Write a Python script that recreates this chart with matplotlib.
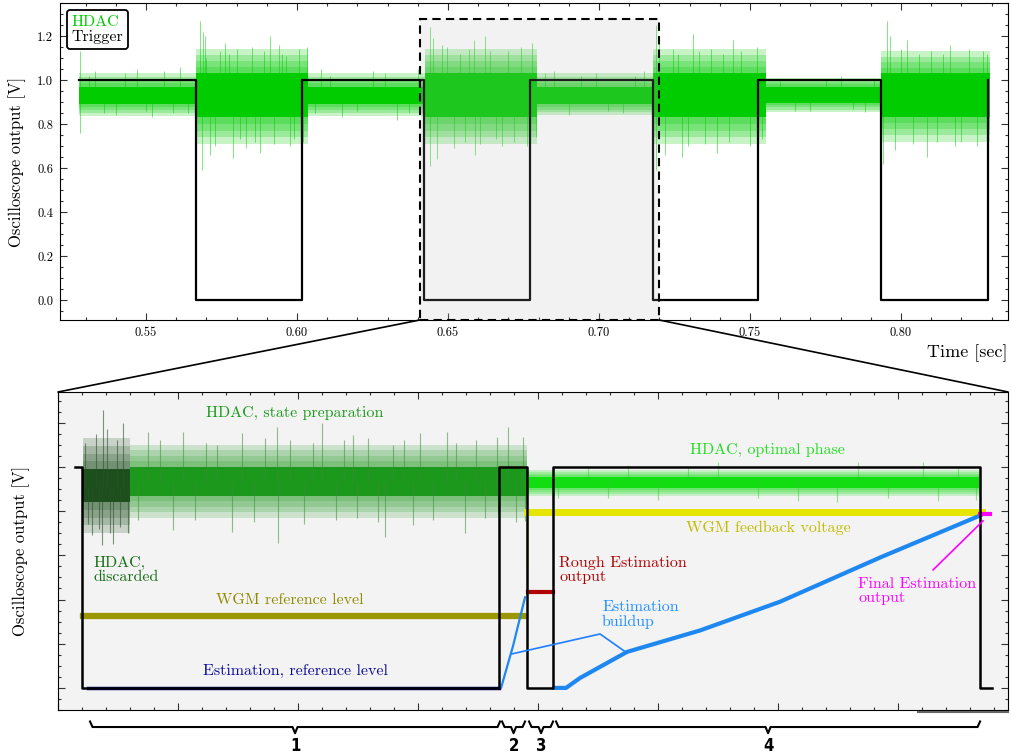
import matplotlib.pyplot as plt
from matplotlib.patches import Rectangle, ConnectionPatch
from matplotlib.lines import Line2D
from matplotlib.ticker import MultipleLocator, NullFormatter

plt.rcParams['font.family'] = 'serif'
plt.rcParams['font.serif'] = ['cmr10']
plt.rcParams['axes.formatter.use_mathtext'] = True
plt.rcParams['mathtext.fontset'] = 'cm'

# ---------------- overview trace (seconds, volts) ----------------
trig_t = [0.5278, 0.5666, 0.6017, 0.6421, 0.6772, 0.7179, 0.7527, 0.7934, 0.8288]
trig_v = [1, 0, 1, 0, 1, 0, 1, 0, 1]

# HDAC noise: segment edges, dense core and sparse outer envelope
hdac_edges = [0.5278, 0.5666, 0.6036, 0.6424, 0.6795, 0.7179, 0.7553, 0.7934, 0.8295]
hdac_core_lo = [0.89, 0.83, 0.89, 0.83, 0.89, 0.83, 0.895, 0.83]
hdac_core_hi = [0.97, 1.03, 0.97, 1.03, 0.97, 1.03, 0.97, 1.03]
hdac_outer_lo = [0.835, 0.71, 0.835, 0.71, 0.84, 0.71, 0.855, 0.72]
hdac_outer_hi = [1.03, 1.14, 1.03, 1.14, 1.03, 1.14, 1.01, 1.13]
hdac_center = 0.93

hdac_spike_t = [0.5280, 0.5281, 0.5310, 0.5330, 0.5360, 0.5400, 0.5430, 0.5470,
                0.5500, 0.5520, 0.5560, 0.5590, 0.5613, 0.5640,
                0.5679, 0.5685, 0.5690, 0.5695, 0.5700, 0.5712, 0.5730, 0.5745,
                0.5762, 0.5775, 0.5788, 0.5800, 0.5811, 0.5830, 0.5850, 0.5860,
                0.5877, 0.5890, 0.5911, 0.5925, 0.5940, 0.5950, 0.5965, 0.5977,
                0.5990, 0.6005, 0.6020, 0.6033,
                0.6060, 0.6080, 0.6110, 0.6150, 0.6200, 0.6250, 0.6290, 0.6330,
                0.6370, 0.6400,
                0.6440, 0.6441, 0.6450, 0.6465, 0.6480, 0.6497, 0.6520, 0.6540,
                0.6556, 0.6570, 0.6586, 0.6590, 0.6605, 0.6622, 0.6640, 0.6660,
                0.6679, 0.6700, 0.6720, 0.6740, 0.6760, 0.6778, 0.6790,
                0.6820, 0.6850, 0.6900, 0.6940, 0.6990, 0.7030, 0.7080, 0.7120,
                0.7150,
                0.7189, 0.7190, 0.7200, 0.7220, 0.7245, 0.7260, 0.7275, 0.7295,
                0.7311, 0.7330, 0.7350, 0.7370, 0.7390, 0.7410, 0.7430, 0.7444,
                0.7470, 0.7500, 0.7523, 0.7540,
                0.7600, 0.7650, 0.7700, 0.7750, 0.7800, 0.7840, 0.7880, 0.7910,
                0.7940, 0.7954, 0.7965, 0.7980, 0.8000, 0.8019, 0.8040, 0.8060,
                0.8086, 0.8100, 0.8120, 0.8140, 0.8162, 0.8180, 0.8200, 0.8225,
                0.8251, 0.8270, 0.8285]
hdac_spike_v = [1.13, 0.76, 1.02, 1.04, 0.85, 0.84, 1.03, 1.05,
                0.86, 0.83, 1.04, 0.85, 1.06, 0.85,
                1.27, 0.59, 1.22, 1.20, 1.10, 0.66, 0.70, 1.13,
                1.17, 1.12, 0.645, 1.14, 0.73, 0.69, 1.15, 0.72,
                0.67, 1.13, 1.20, 0.71, 1.16, 1.12, 1.11, 0.70,
                0.73, 1.14, 0.72, 1.15,
                0.85, 1.05, 1.02, 0.83, 0.86, 1.04, 1.03, 0.82,
                0.85, 1.05,
                1.24, 0.61, 1.19, 0.64, 1.16, 1.15, 0.69, 1.12,
                0.72, 1.14, 1.18, 0.66, 0.71, 1.20, 1.13, 0.73,
                0.70, 1.13, 0.72, 1.15, 0.70, 1.17, 0.74,
                1.03, 1.04, 0.84, 1.02, 1.03, 0.86, 0.85, 1.02,
                1.04,
                1.25, 0.59, 1.19, 0.66, 1.14, 1.12, 0.65, 0.70,
                1.21, 1.13, 0.71, 1.14, 0.67, 1.12, 0.72, 1.18,
                1.13, 0.70, 1.15, 0.73,
                1.01, 0.86, 0.86, 1.00, 1.02, 0.87, 0.855, 1.01,
                0.62, 1.27, 1.20, 0.68, 1.14, 1.18, 0.71, 1.12,
                0.65, 1.13, 0.72, 1.12, 1.16, 0.70, 0.72, 1.14,
                0.70, 1.13, 1.12]

# zoomed window on the overview
zoom_t0, zoom_t1 = 0.6407, 0.7199
zoom_top = 1.277

# ---------------- single measurement cycle (arb. time units) ----------------
cyc_trig_t = [1.7, 2.4, 44.1, 46.9, 49.5, 92.2, 93.4]
cyc_trig_v = [1, 0, 1, 0, 1, 0, 0]

# HDAC bands: discarded, state preparation, optimal phase
discard_x = [2.5, 7.2]
discard_core = (0.84, 0.99)
discard_outer = (0.70, 1.13)
discard_spike_t = [2.7, 3.0, 3.4, 3.8, 4.1, 4.4, 4.5, 4.9, 5.2, 5.5, 5.9, 6.2, 6.5, 7.0]
discard_spike_v = [1.11, 0.74, 0.69, 1.15, 0.72, 0.647, 1.258, 1.17, 0.70, 0.65, 1.12, 0.73, 1.20, 0.70]

prep_x = [7.2, 46.9]
prep_core = (0.87, 1.00)
prep_outer = (0.77, 1.10)
prep_spike_t = [8.0, 9.0, 10.2, 11.5, 12.5, 13.7, 14.8, 15.9, 17.4, 18.4, 19.6,
                20.7, 21.9, 21.95, 23.2, 24.6, 25.5, 26.4, 27.8, 28.6, 29.5, 29.9,
                31.0, 32.0, 32.7, 33.5, 34.6, 35.5, 36.2, 37.5, 38.9, 39.8, 40.7,
                41.8, 42.7, 43.9, 43.95, 45.0, 45.8, 46.5, 46.7]
prep_spike_v = [0.76, 1.16, 1.12, 0.715, 1.16, 0.76, 1.11, 1.10, 0.707, 1.152, 0.75,
                1.13, 1.18, 0.656, 1.12, 0.74, 1.11, 1.20, 0.76, 1.12, 1.145, 0.768,
                1.13, 0.75, 0.683, 1.10, 1.12, 0.737, 1.152, 0.76, 1.16, 1.11, 0.70,
                1.12, 0.77, 1.137, 0.79, 1.18, 0.75, 1.137, 0.753]

opt_x = [46.9, 92.2]
opt_core = (0.905, 0.955)
opt_outer = (0.87, 0.985)
opt_spike_t = [50.0, 53.0, 55.0, 57.0, 60.0, 63.0, 66.0, 70.0, 74.0, 77.9, 80.0,
               83.0, 86.5, 88.0, 90.0, 91.8]
opt_spike_v = [0.86, 1.00, 0.86, 1.01, 0.85, 1.00, 1.02, 0.86, 0.845, 0.84, 1.02,
               0.86, 1.02, 0.845, 1.00, 0.85]

wgm_ref_x = [2.5, 46.7]
wgm_ref_y = [0.326, 0.326]
wgm_fb_x = [46.9, 92.4]
wgm_fb_y = [0.796, 0.796]
est_ref_x = [3.0, 44.1]
est_ref_y = [0.0, 0.0]
build1_x = [44.1, 44.3, 45.5, 46.7]
build1_y = [0.0, 0.0, 0.19, 0.41]
build2_x = [49.6, 50.8, 52.2, 56.9, 64.2, 72.2, 82.2, 92.2]
build2_y = [0.0, 0.0, 0.045, 0.163, 0.26, 0.39, 0.59, 0.78]
rough_x = [47.0, 49.5]
rough_y = [0.434, 0.434]
final_x = [92.2, 93.2]
final_y = [0.787, 0.787]

phase_x0 = [3.2, 44.4, 47.1, 49.8]
phase_x1 = [44.2, 46.7, 49.5, 92.2]
phase_labels = ['1', '2', '3', '4']


def frame_ticks(ax):
    ax.tick_params(which='both', direction='in', top=True, right=True,
                   width=0.8, color='#333333')
    ax.tick_params(which='major', length=5)
    ax.tick_params(which='minor', length=2.5)


def faded_band(ax, x, core_lo, core_hi, outer_lo, outer_hi, color, alpha,
               step=None, z=2, layers=4):
    # solid core plus a few translucent shells fading out to the envelope
    for k in range(1, layers + 1):
        f = k / layers
        lo = [c - (c - o) * f for c, o in zip(core_lo, outer_lo)]
        hi = [c + (o - c) * f for c, o in zip(core_hi, outer_hi)]
        ax.fill_between(x, lo, hi, step=step, color=color, alpha=alpha,
                        lw=0, zorder=z)
    ax.fill_between(x, core_lo, core_hi, step=step, color=color, lw=0, zorder=z)


fig = plt.figure(figsize=(10.11, 7.55), dpi=100)
ax1 = fig.add_axes([0.0593, 0.5762, 0.9377, 0.4199])
ax2 = fig.add_axes([0.0574, 0.0596, 0.9397, 0.4212])

# ---- overview ----
pad = lambda v: v + [v[-1]]
faded_band(ax1, hdac_edges, pad(hdac_core_lo), pad(hdac_core_hi),
           pad(hdac_outer_lo), pad(hdac_outer_hi), '#00cc00', 0.22, step='post')
ax1.vlines(hdac_spike_t, hdac_center, hdac_spike_v, color='#00cc00',
           lw=0.7, alpha=0.5, zorder=2)
ax1.step(trig_t, trig_v, where='post', color='black', lw=1.6, zorder=3)

ax1.add_patch(Rectangle((zoom_t0, -0.091), zoom_t1 - zoom_t0, zoom_top + 0.091,
                        facecolor=(0.7, 0.7, 0.7, 0.17), edgecolor='black',
                        lw=1.5, ls=(0, (4, 2.5)), zorder=4))

ax1.set_xlim(0.5215, 0.8354)
ax1.set_ylim(-0.091, 1.35)
ax1.xaxis.set_major_locator(MultipleLocator(0.05))
ax1.xaxis.set_minor_locator(MultipleLocator(0.01))
ax1.yaxis.set_major_locator(MultipleLocator(0.2))
ax1.yaxis.set_minor_locator(MultipleLocator(0.05))
ax1.xaxis.set_major_formatter(lambda v, p: f'{v:.2f}')
ax1.yaxis.set_major_formatter(lambda v, p: f'{v:.1f}')
frame_ticks(ax1)
ax1.tick_params(labelsize=9, pad=5)
ax1.set_ylabel('Oscilloscope output [V]', fontsize=12)
ax1.yaxis.set_label_coords(-0.036, 0.5)
ax1.set_xlabel('Time [sec]', fontsize=13, ha='right')
ax1.xaxis.set_label_coords(1.0, -0.078)

handles = [Line2D([], [], color='#00cc00'), Line2D([], [], color='black')]
leg = ax1.legend(handles, ['HDAC', 'Trigger'], loc='upper left',
                 bbox_to_anchor=(0.007, 0.977), handlelength=0, handletextpad=0,
                 labelcolor=['#00cc00', 'black'], fontsize=11.5, fancybox=True,
                 framealpha=1, edgecolor='black', borderpad=0.3,
                 labelspacing=0.05, borderaxespad=0)
leg.get_frame().set_linewidth(1.3)

# ---- single cycle ----
ax2.set_facecolor('#f3f3f3')
for (x, core, outer, col, a) in ((discard_x, discard_core, discard_outer, '#1d4f1d', 0.2),
                                 (prep_x, prep_core, prep_outer, '#1c991c', 0.18),
                                 (opt_x, opt_core, opt_outer, '#11dd11', 0.2)):
    faded_band(ax2, x, [core[0]] * 2, [core[1]] * 2, [outer[0]] * 2, [outer[1]] * 2, col, a)
ax2.vlines(discard_spike_t, 0.91, discard_spike_v, color='#2d4f2d', lw=0.8, alpha=0.6, zorder=2)
ax2.vlines(prep_spike_t, 0.93, prep_spike_v, color='#3c8c3c', lw=0.8, alpha=0.55, zorder=2)
ax2.vlines(opt_spike_t, 0.93, opt_spike_v, color='#33cc33', lw=0.8, alpha=0.5, zorder=2)

ax2.plot(wgm_ref_x, wgm_ref_y, color='#9c9600', lw=4.5, zorder=3)
ax2.plot(wgm_fb_x, wgm_fb_y, color='#e5e500', lw=5, zorder=3)
ax2.plot([wgm_fb_x[0], wgm_fb_x[0]], [wgm_fb_y[0], 0.53], color='#e5e500', lw=1, zorder=3)
ax2.plot(est_ref_x, est_ref_y, color='#10108a', lw=2.5, zorder=3)
ax2.plot(build1_x, build1_y, color='#1e88f0', lw=1.6, zorder=3)
ax2.plot(build2_x, build2_y, color='#1e88f0', lw=3, zorder=3)
ax2.plot(rough_x, rough_y, color='#b00000', lw=3, zorder=3)
ax2.plot(final_x, final_y, color='#ff00ff', lw=3, zorder=4)

ax2.step(cyc_trig_t, cyc_trig_v, where='post', color='black', lw=1.8, zorder=5)

# annotation pointers
ax2.plot([45.4, 54.2, 56.9], [0.154, 0.244, 0.158], color='#1e7fff', lw=1.2, zorder=5)
ax2.plot([87.5, 92.5], [0.534, 0.756], color='#ff00ff', lw=1.2, zorder=5)

txt = dict(fontsize=11.5, va='center', zorder=6)
ax2.text(23.7, 1.244, 'HDAC, state preparation', color='#1a9a1a', ha='center', **txt)
ax2.text(3.5, 0.534, 'HDAC,\ndiscarded', color='#176c17', ha='left', linespacing=1.05, **txt)
ax2.text(23.2, 0.398, 'WGM reference level', color='#8f8a00', ha='center', **txt)
ax2.text(23.7, 0.077, 'Estimation, reference level', color='#0a0a9a', ha='center', **txt)
ax2.text(70.9, 1.077, 'HDAC, optimal phase', color='#22dd22', ha='center', **txt)
ax2.text(71.0, 0.724, 'WGM feedback voltage', color='#c2bb00', ha='center', **txt)
ax2.text(50.1, 0.534, 'Rough Estimation\noutput', color='#aa0000', ha='left', linespacing=1.05, **txt)
ax2.text(54.4, 0.33, 'Estimation\nbuildup', color='#1e90ff', ha='left', linespacing=1.05, **txt)
ax2.text(80.0, 0.439, 'Final Estimation\noutput', color='#ff00ff', ha='left', linespacing=1.05, **txt)

ax2.set_xlim(0, 95)
ax2.set_ylim(-0.1, 1.339)
ax2.xaxis.set_major_locator(MultipleLocator(12))
ax2.xaxis.set_minor_locator(MultipleLocator(2.4))
ax2.yaxis.set_major_locator(MultipleLocator(0.2))
ax2.yaxis.set_minor_locator(MultipleLocator(0.05))
ax2.xaxis.set_major_formatter(NullFormatter())
ax2.yaxis.set_major_formatter(NullFormatter())
frame_ticks(ax2)
ax2.set_ylabel('Oscilloscope output [V]', fontsize=12)
ax2.yaxis.set_label_coords(-0.03, 0.5)
ax2.plot([0.905, 1.0], [-0.005, -0.005], transform=ax2.transAxes, color='#666666',
         lw=1.5, clip_on=False, zorder=6)

# phase braces under the cycle
for x0, x1, lab in zip(phase_x0, phase_x1, phase_labels):
    xm = 0.5 * (x0 + x1)
    ax2.plot([x0, x0 + 0.25, xm - 0.25, xm, xm + 0.25, x1 - 0.25, x1],
             [-0.152, -0.177, -0.177, -0.205, -0.177, -0.177, -0.152],
             color='black', lw=1.5, clip_on=False)
    ax2.text(xm, -0.262, lab, ha='center', va='center', fontsize=12,
             family='DejaVu Sans', weight='bold', stretch='condensed')

# zoom connectors
for xa, xb in ((zoom_t0, 0.0), (zoom_t1, 1.0)):
    con = ConnectionPatch(xyA=(xa, -0.091), coordsA=ax1.transData,
                          xyB=(xb, 1.0), coordsB=ax2.transAxes,
                          color='black', lw=1.2)
    fig.add_artist(con)

fig.savefig('out.png', dpi=100)
